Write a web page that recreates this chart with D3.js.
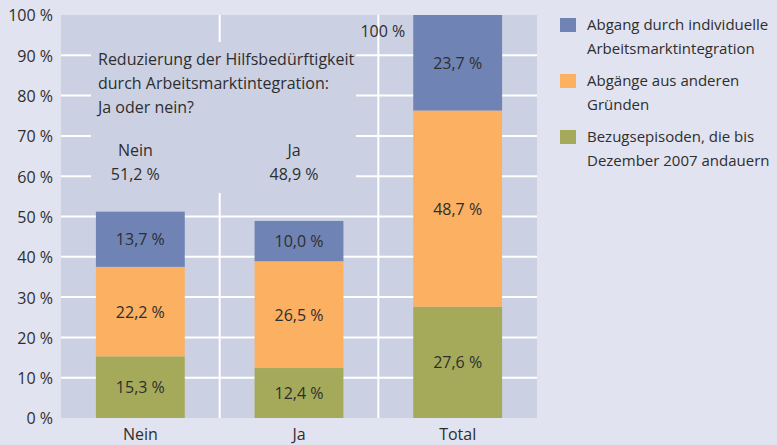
<!DOCTYPE html>
<html>
<head>
<meta charset="utf-8">
<script src="https://cdn.jsdelivr.net/npm/d3@7"></script>
<style>
	body { margin: 0; background: #e1e3f0; }
	svg { display: block; font-family: "Open Sans", sans-serif; }
	text { fill: #2e2e2e; }
</style>
</head>
<body>
<svg width="777" height="445"></svg>
<script>
var categories = ["Nein", "Ja", "Total"];
var seriesNames = [
	"Bezugsepisoden, die bis Dezember 2007 andauern",
	"Abgänge aus anderen Gründen",
	"Abgang durch individuelle Arbeitsmarktintegration"
];
var bezug = [15.3, 12.4, 27.6];
var andere = [22.2, 26.5, 48.7];
var integration = [13.7, 10.0, 23.7];
var totals = ["51,2 %", "48,9 %", "100 %"];
var yTicks = [0, 10, 20, 30, 40, 50, 60, 70, 80, 90, 100];
var legendLines = [
	["Abgang durch individuelle", "Arbeitsmarktintegration"],
	["Abgänge aus anderen", "Gründen"],
	["Bezugsepisoden, die bis", "Dezember 2007 andauern"]
];
var noteLines = ["Reduzierung der Hilfsbedürftigkeit", "durch Arbeitsmarktintegration:", "Ja oder nein?"];

var colors = ["#a5aa5a", "#fbb062", "#6f83b4"];
var fmt = function(v) { return d3.format(".1f")(v).replace(".", ",") + " %"; };

var svg = d3.select("svg");
var plotLeft = 61, plotRight = 537, plotTop = 15, plotBottom = 418;

var x = d3.scaleBand().domain(categories).range([plotLeft, plotRight])
	.paddingInner(0.44).paddingOuter(0.22);
var y = d3.scaleLinear().domain([0, 100]).range([plotBottom, plotTop]);

// plot background
svg.append("rect")
	.attr("x", plotLeft).attr("y", plotTop)
	.attr("width", plotRight - plotLeft).attr("height", plotBottom - plotTop)
	.attr("fill", "#ccd0e3");

// gridlines
svg.append("g").selectAll("line").data(yTicks.slice(1, -1))
	.enter().append("line")
	.attr("x1", plotLeft).attr("x2", plotRight)
	.attr("y1", function(d) { return y(d); })
	.attr("y2", function(d) { return y(d); })
	.attr("stroke", "#fff").attr("stroke-width", 2);

svg.append("g").selectAll("line").data(categories.slice(1))
	.enter().append("line")
	.attr("x1", function(d) { return x(d) - x.step() * 0.22; })
	.attr("x2", function(d) { return x(d) - x.step() * 0.22; })
	.attr("y1", plotTop).attr("y2", plotBottom)
	.attr("stroke", "#fff").attr("stroke-width", 2);

// note box covering the grid
svg.append("rect")
	.attr("x", 91).attr("y", 42).attr("width", 265).attr("height", 151)
	.attr("fill", "#ccd0e3");

svg.append("g").selectAll("text").data(noteLines)
	.enter().append("text")
	.attr("x", 98)
	.attr("y", function(d, i) { return 65 + i * 24; })
	.style("font-size", "16px")
	.text(function(d) { return d; });

// y axis labels
svg.append("g").selectAll("text").data(yTicks)
	.enter().append("text")
	.attr("x", 53)
	.attr("y", function(d) { return y(d); })
	.attr("dy", "0.4em")
	.attr("text-anchor", "end")
	.style("font-size", "16px")
	.text(function(d) { return d + " %"; });

// stacked bars
var rows = categories.map(function(c, i) {
	return { cat: c, s0: bezug[i], s1: andere[i], s2: integration[i] };
});
var stack = d3.stack().keys(["s0", "s1", "s2"])(rows);

var layers = svg.append("g").selectAll("g").data(stack)
	.enter().append("g")
	.attr("fill", function(d, i) { return colors[i]; });

layers.selectAll("rect").data(function(d) { return d; })
	.enter().append("rect")
	.attr("x", function(d) { return x(d.data.cat); })
	.attr("width", x.bandwidth())
	.attr("y", function(d) { return y(d[1]); })
	.attr("height", function(d) { return y(d[0]) - y(d[1]); });

layers.selectAll("text").data(function(d) { return d; })
	.enter().append("text")
	.attr("x", function(d) { return x(d.data.cat) + x.bandwidth() / 2; })
	.attr("y", function(d) { return (y(d[0]) + y(d[1])) / 2; })
	.attr("dy", "0.38em")
	.attr("text-anchor", "middle")
	.style("font-size", "16px")
	.text(function(d) { return fmt(d[1] - d[0]); });

// group labels above bars
svg.append("g").selectAll("text").data(categories.slice(0, 2))
	.enter().append("text")
	.attr("x", function(d) { return x(d) + x.bandwidth() / 2 - 5; })
	.attr("y", 156)
	.attr("text-anchor", "middle")
	.style("font-size", "16px")
	.text(function(d) { return d; });

svg.append("g").selectAll("text").data(totals.slice(0, 2))
	.enter().append("text")
	.attr("x", function(d, i) { return x(categories[i]) + x.bandwidth() / 2 - 5; })
	.attr("y", 180)
	.attr("text-anchor", "middle")
	.style("font-size", "16px")
	.text(function(d) { return d; });

svg.append("text")
	.attr("x", x("Total") - 8)
	.attr("y", 37)
	.attr("text-anchor", "end")
	.style("font-size", "16px")
	.text(totals[2]);

// x axis labels
svg.append("g").selectAll("text").data(categories)
	.enter().append("text")
	.attr("x", function(d) { return x(d) + x.bandwidth() / 2; })
	.attr("y", 440)
	.attr("text-anchor", "middle")
	.style("font-size", "16px")
	.text(function(d) { return d; });

// legend
var legendColors = colors.slice().reverse();
var legend = svg.append("g").selectAll("g").data(legendLines)
	.enter().append("g")
	.attr("transform", function(d, i) { return "translate(560," + (18 + i * 56) + ")"; });

legend.append("rect")
	.attr("width", 16).attr("height", 14)
	.attr("fill", function(d, i) { return legendColors[i]; });

legend.append("text")
	.attr("x", 27)
	.attr("y", 12)
	.style("font-size", "15px")
	.selectAll("tspan").data(function(d) { return d; })
	.enter().append("tspan")
	.attr("x", 27)
	.attr("dy", function(d, i) { return i ? 24 : 0; })
	.text(function(d) { return d; });
</script>
</body>
</html>
